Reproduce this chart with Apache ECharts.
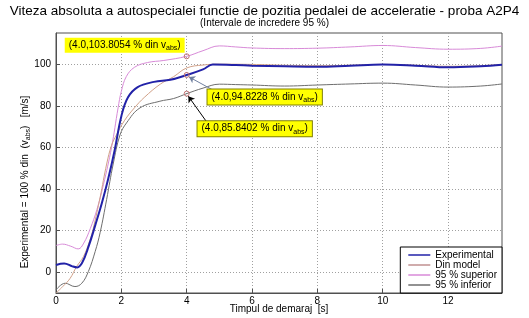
<!DOCTYPE html>
<html>
<head>
<meta charset="utf-8">
<script src="https://cdn.jsdelivr.net/npm/echarts@6/dist/echarts.min.js"></script>
<style>html,body{margin:0;padding:0;background:#fff}#c{width:529px;height:318px}</style>
</head>
<body>
<div id="c"></div>
<script>
// ---- data ----
var seriesNames = ['Experimental', 'Din model', '95 % superior', '95 % inferior'];
var xTicks = [0, 2, 4, 6, 8, 10, 12];
var yTicks = [0, 20, 40, 60, 80, 100];

var tExp = [0, 0.25, 0.5, 0.65, 0.8, 1.0, 1.2, 1.4, 1.6, 1.8, 2.0, 2.2, 2.5, 3.0, 3.5, 4.0, 4.5, 4.8, 5.5, 6, 7, 8, 9, 10, 11, 12, 13, 13.65];
var vExp = [3.5, 4.2, 2.8, 2.3, 4.5, 12.5, 22.5, 33, 45, 59, 75, 84, 89, 91.5, 92.5, 94.8228, 97.5, 99.8, 99.6, 99.3, 99, 98.8, 99.3, 99.8, 99.3, 98.5, 99, 99.7];

var tMod = [0, 0.2, 0.43, 0.63, 0.84, 1.04, 1.14, 1.35, 1.55, 1.7, 1.85, 2.1, 2.4, 2.7, 3.2, 3.6, 4.0, 4.5, 5, 6, 7, 8, 9, 10, 11, 12, 13, 13.65];
var vMod = [-10, -7, -3, 2.7, 7.5, 15.5, 21, 36, 52, 61, 66, 73, 79, 84, 90.5, 94, 98.2, 99.6, 100, 99.9, 99.5, 99.3, 99.5, 99.9, 99.5, 99, 99.3, 99.9];

var tSup = [0, 0.2, 0.45, 0.68, 0.85, 1.05, 1.25, 1.45, 1.7, 1.9, 2.0, 2.15, 2.4, 2.8, 3.3, 4.0, 4.5, 5.0, 5.5, 6, 7, 8, 9, 10, 11, 12, 13, 13.65];
var vSup = [12.8, 13.5, 12.5, 11.2, 14, 21, 30, 42, 60, 79, 87, 94, 98.5, 100.8, 101.8, 103.8054, 106.5, 108.8, 108.3, 107.8, 107.5, 107.7, 108.3, 109, 108, 107.2, 107.6, 108.7];

var tInf = [0, 0.28, 0.58, 0.79, 0.99, 1.2, 1.35, 1.55, 1.75, 1.96, 2.16, 2.57, 3.18, 3.6, 4.0, 4.5, 5.0, 5.5, 6, 7, 8, 9, 10, 11, 12, 13, 13.65];
var vInf = [-8.5, -5.3, -6.9, -5.3, 0.3, 10, 19, 35, 52, 66, 71.8, 79, 82.2, 83.5, 85.8402, 88.5, 90.4, 90.2, 90, 89.5, 90, 90.5, 90.9, 90, 89, 89.5, 90.5];

var markT = 4.0;
var markSup = 103.8054, markExp = 94.8228, markInf = 85.8402;

function pairs(t, v) { return t.map(function (x, i) { return [x, v[i]]; }); }

var FONT = 'Liberation Sans, Arial, sans-serif';
var rich = {
  a: { fontSize: 10, fontFamily: FONT, color: '#000', lineHeight: 13 },
  s: { fontSize: 7, fontFamily: FONT, color: '#000', verticalAlign: 'bottom', lineHeight: 5 }
};
function boxLabel(val, border, ox, oy) {
  return {
    show: true, position: 'inside', offset: [ox, oy],
    formatter: '{a|(4.0,' + val + ' % din v}{s|abs}{a|)}',
    rich: rich, backgroundColor: '#ffff00',
    borderColor: border, borderWidth: border ? 1 : 0,
    padding: [1, 4, 1, 4]
  };
}
var mpStyle = { color: 'rgba(0,0,0,0)', borderColor: '#c07070', borderWidth: 1 };

var chart = echarts.init(document.getElementById('c'), null, { renderer: 'canvas' });
var option = {
  backgroundColor: '#fff',
  animation: false,
  title: {
    text: 'Viteza absoluta a autospecialei functie de pozitia pedalei de acceleratie - proba A2P4',
    subtext: '(Intervale de incredere 95 %)',
    left: 'center', top: -1, itemGap: 0,
    textStyle: { fontSize: 13.5, fontWeight: 'normal', color: '#000', fontFamily: FONT },
    subtextStyle: { fontSize: 10, color: '#000', fontFamily: FONT }
  },
  grid: { left: 56, top: 33, right: 27, bottom: 25, show: true, borderColor: '#505050', borderWidth: 1, backgroundColor: '#fff', outerBoundsMode: 'none', containLabel: false },
  legend: {
    data: seriesNames, orient: 'vertical', right: 27, bottom: 25, icon: 'rect',
    backgroundColor: '#fff', borderColor: '#000', borderWidth: 1,
    padding: [3, 5, 3, 8], itemGap: 0, itemWidth: 22, itemHeight: 1.5,
    textStyle: { fontSize: 10, color: '#000', fontFamily: FONT, lineHeight: 9.5 }
  },
  xAxis: {
    type: 'value', min: 0, max: 13.65, interval: 2,
    name: 'Timpul de demaraj  [s]', nameLocation: 'middle', nameGap: 11, nameMoveOverlap: false,
    nameTextStyle: { fontSize: 10, color: '#000', fontFamily: FONT },
    axisLine: { show: true, onZero: false, lineStyle: { color: '#505050' } },
    axisTick: { show: true, inside: true, length: 4, lineStyle: { color: '#505050' } },
    axisLabel: { fontSize: 10, color: '#000', fontFamily: FONT, margin: 3, showMaxLabel: false,
      formatter: function (v) { return xTicks.indexOf(v) >= 0 ? String(v) : ''; } },
    splitLine: { show: true, showMinLine: false, showMaxLine: false, lineStyle: { color: '#a0a0a0', type: [1, 2] } }
  },
  yAxis: {
    type: 'value', min: -10, max: 115, minInterval: 20, maxInterval: 20,
    axisLine: { show: true, onZero: false, lineStyle: { color: '#505050' } },
    axisTick: { show: true, inside: true, length: 4, lineStyle: { color: '#505050' } },
    axisLabel: { fontSize: 10, color: '#000', fontFamily: FONT, margin: 5, showMinLabel: false, showMaxLabel: false,
      formatter: function (v) { return yTicks.indexOf(v) >= 0 ? String(v) : ''; } },
    splitLine: { show: true, showMinLine: false, showMaxLine: false, lineStyle: { color: '#a0a0a0', type: [1, 2] } }
  },
  graphic: [{
    type: 'text', x: 25, y: 182, rotation: Math.PI / 2,
    style: {
      text: '{a|Experimental = 100 % din  (v}{s|abs}{a|)   [m/s]}',
      rich: rich, align: 'center', verticalAlign: 'middle'
    }
  }],
  series: [
    {
      name: seriesNames[3], type: 'line', data: pairs(tInf, vInf), symbol: 'none', smooth: 0.4,
      lineStyle: { color: '#6e6e6e', width: 1 }, itemStyle: { color: '#6e6e6e' }, z: 2,
      markPoint: { symbol: 'circle', symbolSize: 5, itemStyle: mpStyle,
        data: [{ coord: [markT, markInf], label: boxLabel('85.8402', '#808000', 68, 35) }] },
      markLine: { silent: true, symbol: ['none', 'arrow'], symbolSize: 6, label: { show: false },
        lineStyle: { color: '#000', width: 1, type: 'solid' },
        data: [[{ coord: [4.6, 72.5] }, { coord: [4.05, 84.6] }]] }
    },
    {
      name: seriesNames[2], type: 'line', data: pairs(tSup, vSup), symbol: 'none', smooth: 0.4,
      lineStyle: { color: '#d88ad8', width: 1 }, itemStyle: { color: '#d88ad8' }, z: 2,
      markPoint: { symbol: 'circle', symbolSize: 5, itemStyle: mpStyle,
        data: [{ coord: [markT, markSup], label: boxLabel('103.8054', null, -62, -11) }] }
    },
    {
      name: seriesNames[1], type: 'line', data: pairs(tMod, vMod), symbol: 'none', smooth: 0.4,
      lineStyle: { color: '#d0a088', width: 1 }, itemStyle: { color: '#c09090' }, z: 2
    },
    {
      name: seriesNames[0], type: 'line', data: pairs(tExp, vExp), symbol: 'none', smooth: 0.4,
      lineStyle: { color: '#2222a8', width: 2 }, itemStyle: { color: '#2222a8' }, z: 3,
      markPoint: { symbol: 'circle', symbolSize: 5, itemStyle: mpStyle,
        data: [{ coord: [markT, markExp], label: boxLabel('94.8228', '#808000', 78, 22) }] },
      markLine: { silent: true, symbol: ['none', 'arrow'], symbolSize: 6, label: { show: false },
        lineStyle: { color: '#7080a0', width: 1, type: 'solid' },
        data: [[{ coord: [4.8, 87.6] }, { coord: [4.07, 93.9] }]] }
    }
  ]
};
chart.setOption(option);
</script>
</body>
</html>
